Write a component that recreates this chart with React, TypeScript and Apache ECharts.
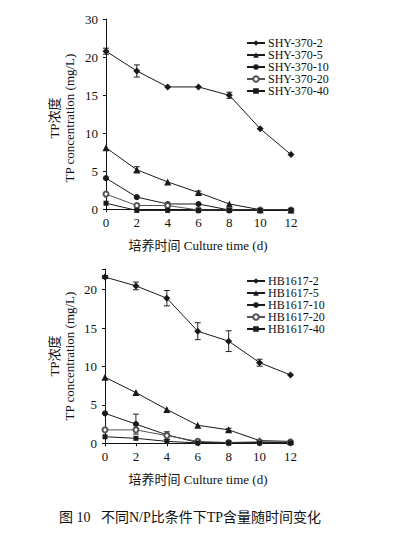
import React, { useEffect, useRef } from "react";
import * as echarts from "echarts";

const days = [0, 2, 4, 6, 8, 10, 12];

const topNames = ["SHY-370-2", "SHY-370-5", "SHY-370-10", "SHY-370-20", "SHY-370-40"];
const shy2 = [20.8, 18.2, 16.1, 16.1, 15.0, 10.6, 7.2];
const shy5 = [8.1, 5.2, 3.6, 2.2, 0.7, -0.05, -0.1];
const shy10 = [4.1, 1.6, 0.7, 0.7, -0.1, -0.15, -0.15];
const shy20 = [2.0, 0.5, 0.5, -0.1, -0.1, -0.1, -0.1];
const shy40 = [0.8, -0.15, -0.15, -0.15, -0.15, -0.15, -0.15];
const shy2Err = [0.4, 0.8, 0, 0, 0.4, 0, 0];
const shy5Err = [0, 0.4, 0, 0.2, 0, 0, 0];

const botNames = ["HB1617-2", "HB1617-5", "HB1617-10", "HB1617-20", "HB1617-40"];
const hb2 = [21.65, 20.5, 18.9, 14.6, 13.3, 10.5, 8.9];
const hb5 = [8.6, 6.6, 4.4, 2.35, 1.75, 0.35, 0.25];
const hb10 = [3.9, 2.5, 1.1, 0.1, 0.05, 0.1, 0.1];
const hb20 = [1.75, 1.75, 1.0, 0.25, 0.1, 0.2, 0.15];
const hb40 = [0.85, 0.65, 0.25, 0.05, 0.05, 0.05, 0.05];
const hb2Err = [0.2, 0.5, 1.0, 1.1, 1.35, 0.45, 0];
const hb5Err = [0, 0, 0, 0, 0.2, 0, 0];
const hb10Err = [0, 1.3, 0, 0, 0, 0, 0];
const hb20Err = [0, 0, 0.5, 0, 0, 0, 0];

const symbols = ["diamond", "triangle", "circle", "emptyCircle", "rect"];
const symbolSizes = [7, 7, 6, 5, 5];
const lineColors = ["#1a1a1a", "#1a1a1a", "#1a1a1a", "#555555", "#1a1a1a"];

const FONT = "'Liberation Serif', 'Times New Roman', 'Noto Sans CJK SC', serif";

export default function App() {
  const ref = useRef<HTMLDivElement>(null);
  useEffect(() => {
    const chart = echarts.init(ref.current!, null, { renderer: "svg" });

    const pair = (vals: number[]) => days.map((d, i) => [d, vals[i]]);
    const errPairs = (vals: number[], errs: number[]) =>
      days.map((d, i) => [d, vals[i], errs[i]]).filter((p) => p[2] > 0);

    const mkLines = (names: string[], sets: number[][], idx: number) =>
      names.map((n, k) => ({
        type: "line",
        name: n,
        xAxisIndex: idx,
        yAxisIndex: idx,
        data: pair(sets[k]),
        symbol: symbols[k],
        symbolSize: symbolSizes[k],
        showAllSymbol: true,
        clip: false,
        color: lineColors[k],
        lineStyle: { color: lineColors[k], width: 1 },
        itemStyle: { color: lineColors[k] },
        z: 3,
      }));

    const errSeries = (vals: number[], errs: number[], idx: number) => ({
      type: "custom",
      xAxisIndex: idx,
      yAxisIndex: idx,
      data: errPairs(vals, errs),
      z: 2,
      renderItem: (params: any, api: any) => {
        const x = api.value(0);
        const y = api.value(1);
        const e = api.value(2);
        const lo = api.coord([x, y - e]);
        const hi = api.coord([x, y + e]);
        const st = { stroke: "#222", lineWidth: 1 };
        return {
          type: "group",
          children: [
            { type: "line", shape: { x1: lo[0], y1: lo[1], x2: hi[0], y2: hi[1] }, style: st },
            { type: "line", shape: { x1: lo[0] - 3, y1: lo[1], x2: lo[0] + 3, y2: lo[1] }, style: st },
            { type: "line", shape: { x1: hi[0] - 3, y1: hi[1], x2: hi[0] + 3, y2: hi[1] }, style: st },
          ],
        };
      },
    });

    const axisLine = { lineStyle: { color: "#111", width: 1 } };
    const axisLabel = { color: "#111", fontSize: 13, fontFamily: FONT };

    const xAxis = (gi: number) => ({
      type: "value",
      gridIndex: gi,
      min: 0,
      max: 12,
      interval: 2,
      axisLine: { show: true, ...axisLine },
      axisTick: { show: true, length: 3, lineStyle: { color: "#111" } },
      axisLabel: { ...axisLabel, margin: 7 },
      splitLine: { show: false },
    });

    const yAxis = (gi: number, max: number, fmt: (v: number) => string) => ({
      type: "value",
      gridIndex: gi,
      min: 0,
      max,
      interval: 5,
      axisLine: { show: true, ...axisLine },
      axisTick: { show: true, length: 3, lineStyle: { color: "#111" } },
      axisLabel: { ...axisLabel, margin: 8, formatter: fmt },
      splitLine: { show: false },
    });

    const legend = (names: string[], top: number) => ({
      data: names,
      orient: "vertical",
      left: 246,
      top,
      itemWidth: 18,
      itemHeight: 7,
      itemGap: 0,
      textStyle: { color: "#111", fontSize: 12, fontFamily: FONT, padding: [0, 0, 0, -2] },
      padding: 0,
    });

    const text = (t: string, x: number, y: number, rot: number, size = 13) => ({
      type: "text",
      x,
      y,
      rotation: rot,
      style: {
        text: t,
        fill: "#111",
        fontSize: size,
        fontFamily: FONT,
        align: "center",
        verticalAlign: "middle",
      },
    });

    chart.setOption({
      animation: false,
      grid: [
        { left: 106, top: 19.3, width: 185, height: 190 },
        { left: 105, top: 269, width: 185.5, height: 174.3 },
      ],
      xAxis: [xAxis(0), xAxis(1)],
      yAxis: [
        yAxis(0, 25, (v: number) => (v === 25 ? "30" : String(v))),
        yAxis(1, 22.7, (v: number) => (v % 5 === 0 ? String(v) : "")),
      ],
      legend: [legend(topNames, 37), legend(botNames, 275)],
      series: [
        ...mkLines(topNames, [shy2, shy5, shy10, shy20, shy40], 0),
        errSeries(shy2, shy2Err, 0),
        errSeries(shy5, shy5Err, 0),
        ...mkLines(botNames, [hb2, hb5, hb10, hb20, hb40], 1),
        errSeries(hb2, hb2Err, 1),
        errSeries(hb5, hb5Err, 1),
        errSeries(hb10, hb10Err, 1),
        errSeries(hb20, hb20Err, 1),
      ],
      graphic: [
        text("TP浓度", 54, 118, Math.PI / 2),
        text("TP concentration (mg/L)", 69, 118, Math.PI / 2),
        text("培养时间 Culture time (d)", 198, 245, 0),
        text("TP浓度", 54, 356, Math.PI / 2),
        text("TP concentration (mg/L)", 69, 356, Math.PI / 2),
        text("培养时间 Culture time (d)", 198, 479, 0),
        text("图 10   不同N/P比条件下TP含量随时间变化", 190, 517, 0, 14),
      ],
    });
    return () => chart.dispose();
  }, []);
  return (
    <div
      ref={ref}
      style={{ position: "fixed", left: 0, top: 0, width: 393, height: 533, background: "#fff" }}
    />
  );
}
